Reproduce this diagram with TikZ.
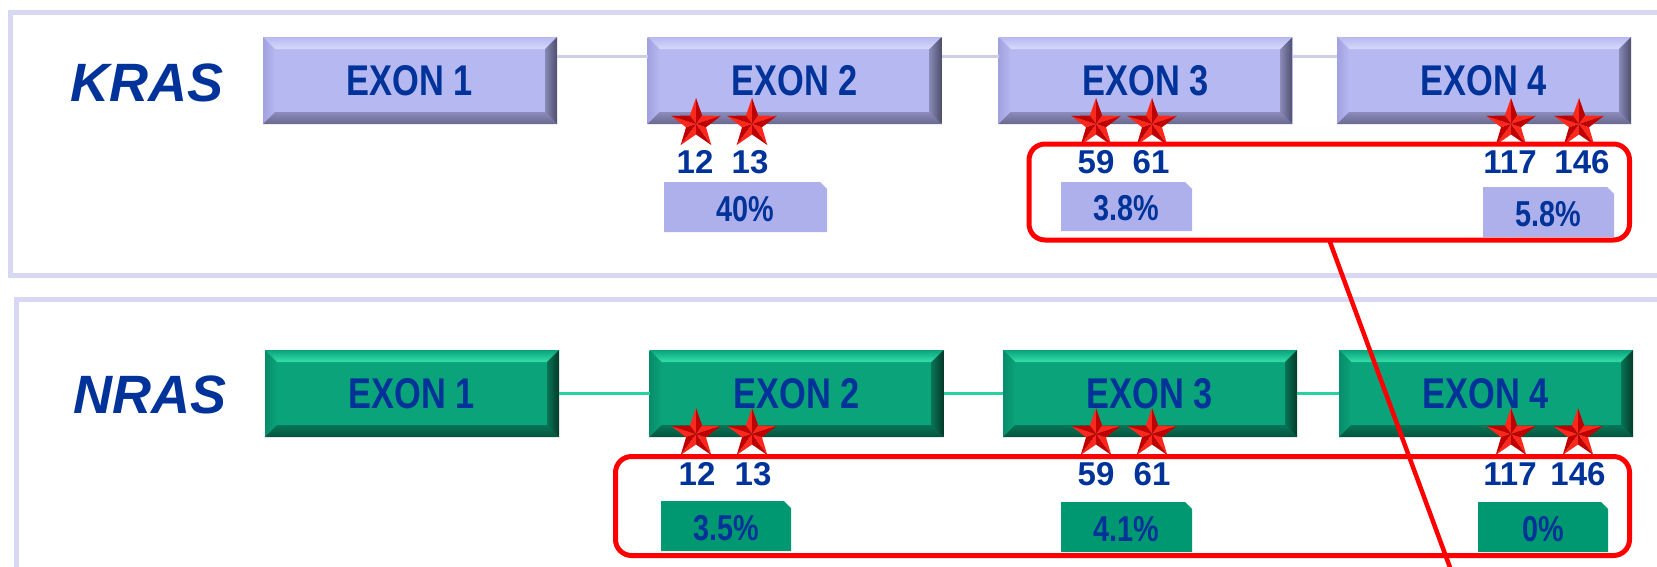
\documentclass[tikz,border=0pt]{standalone}
\usepackage{fontspec}
\setmainfont{Liberation Sans}
\newfontfamily\narrowfont{Liberation Sans}[FakeStretch=0.8]
\usetikzlibrary{calc}

\definecolor{txtblue}{RGB}{0,51,153}
\definecolor{panelline}{RGB}{216,216,244}
\definecolor{kface}{RGB}{182,184,242}
\definecolor{ktop}{RGB}{216,217,251}
\definecolor{kleft}{RGB}{160,161,222}
\definecolor{kbottom}{RGB}{104,104,142}
\definecolor{kright}{RGB}{78,78,108}
\definecolor{ktag}{RGB}{174,176,236}
\definecolor{kconn}{RGB}{205,205,230}
\definecolor{nface}{RGB}{10,163,122}
\definecolor{ntop}{RGB}{52,224,172}
\definecolor{nleft}{RGB}{8,140,105}
\definecolor{nbottom}{RGB}{5,82,60}
\definecolor{nright}{RGB}{4,58,42}
\definecolor{ntag}{RGB}{0,152,112}
\definecolor{nconn}{RGB}{40,210,160}
\definecolor{boxred}{RGB}{255,0,0}
\definecolor{starlight}{RGB}{255,40,28}
\definecolor{stardark}{RGB}{190,0,0}

\tikzset{
  exon/.style n args={5}{draw=none, minimum width=294pt, minimum height=87pt,
    inner sep=0pt, outer sep=0pt, fill=#1, text=txtblue,
    font=\narrowfont\bfseries\fontsize{43}{43}\selectfont,
    path picture={
      \coordinate (bNW) at (path picture bounding box.north west);
      \coordinate (bNE) at (path picture bounding box.north east);
      \coordinate (bSW) at (path picture bounding box.south west);
      \coordinate (bSE) at (path picture bounding box.south east);
      \coordinate (iNW) at ([shift={(12pt,-12pt)}]bNW);
      \coordinate (iNE) at ([shift={(-12pt,-12pt)}]bNE);
      \coordinate (iSW) at ([shift={(12pt,12pt)}]bSW);
      \coordinate (iSE) at ([shift={(-12pt,12pt)}]bSE);
      \shade[top color=#1, bottom color=#2] (bNW) -- (bNE) -- (iNE) -- (iNW) -- cycle;
      \shade[left color=#3, right color=#1] (bNW) -- (iNW) -- (iSW) -- (bSW) -- cycle;
      \shade[top color=#4!55!#1, bottom color=#4] (bSW) -- (iSW) -- (iSE) -- (bSE) -- cycle;
      \shade[left color=#5!45!#1, right color=#5] (bSE) -- (iSE) -- (iNE) -- (bNE) -- cycle;
    }},
  kexon/.style={exon={kface}{ktop}{kleft}{kbottom}{kright}},
  nexon/.style={exon={nface}{ntop}{nleft}{nbottom}{nright}},
  gene/.style={text=txtblue, font=\bfseries\itshape\fontsize{54}{54}\selectfont,
    anchor=base, inner sep=0pt},
  num/.style={text=txtblue, font=\bfseries\fontsize{33}{33}\selectfont,
    anchor=base, inner sep=0pt},
  pct/.style={text=txtblue, font=\narrowfont\bfseries\fontsize{36}{36}\selectfont,
    inner sep=0pt},
  panel/.style={draw=panelline, line width=5pt},
  kconnect/.style={draw=kconn, line width=3pt},
  nconnect/.style={draw=nconn, line width=3pt},
  hotspot/.style={draw=boxred, line width=5pt, rounded corners=16pt,
    inner sep=0pt, outer sep=0pt},
  redline/.style={draw=boxred, line width=4.5pt},
  redstar/.pic={
    \foreach \i in {0,...,4}{
      \pgfmathsetmacro\a{90+72*\i}
      \fill[starlight] (0,0) -- (\a:26pt) -- ({\a+36}:10.5pt) -- cycle;
      \fill[stardark] (0,0) -- (\a:26pt) -- ({\a-36}:10.5pt) -- cycle;
    }
  }
}

% percentage tag with a clipped upper right corner: name, x1, y1, x2, y2, fill, text
\newcommand\pcttag[7]{%
  \fill[#6] (#2,#3) -- ({#4-7},#3) -- (#4,{#3+7}) -- (#4,#5) -- (#2,#5) -- cycle;
  \node[pct] (#1) at ({(#2+#4)/2},{(#3+#5)/2+2}) {#7};
}

\begin{document}
\begin{tikzpicture}[x=1pt,y=-1pt]
\useasboundingbox (0,0) rectangle (1657,566);
\clip (0,0) rectangle (1657,566);

% panel frames
\draw[panel] (1700,12.5) -- (10,12.5) -- (10,275.5) -- (1700,275.5);
\draw[panel] (1700,299.5) -- (16,299.5) -- (16,620);

% gene names
\node[gene] (kras) at (147,101) {KRAS};
\node[gene] (nras) at (150,413) {NRAS};

% KRAS exons
\node[kexon] (k1) at (410,80.5) {EXON 1};
\node[kexon] (k2) at (794.5,80.5) {EXON 2};
\node[kexon] (k3) at (1145.5,80.5) {EXON 3};
\node[kexon] (k4) at (1484,80.5) {EXON 4};

% NRAS exons
\node[nexon] (n1) at (412,393.5) {EXON 1};
\node[nexon] (n2) at (796.5,393.5) {EXON 2};
\node[nexon] (n3) at (1150,393.5) {EXON 3};
\node[nexon] (n4) at (1486,393.5) {EXON 4};

% introns
\draw[kconnect] ([yshift=24pt]k1.east) -- ([yshift=24pt]k2.west);
\draw[kconnect] ([yshift=24pt]k2.east) -- ([yshift=24pt]k3.west);
\draw[kconnect] ([yshift=24pt]k3.east) -- ([yshift=24pt]k4.west);
\draw[nconnect] (n1.east) -- (n2.west);
\draw[nconnect] (n2.east) -- (n3.west);
\draw[nconnect] (n3.east) -- (n4.west);

% mutation hotspots
\pic (sk12) at (696,124) {redstar};
\pic (sk13) at (752,124) {redstar};
\pic (sk59) at (1096,124) {redstar};
\pic (sk61) at (1152,124) {redstar};
\pic (sk117) at (1511,124) {redstar};
\pic (sk146) at (1579,124) {redstar};
\pic (sn12) at (696,434) {redstar};
\pic (sn13) at (752,434) {redstar};
\pic (sn59) at (1096,434) {redstar};
\pic (sn61) at (1152,434) {redstar};
\pic (sn117) at (1511,434) {redstar};
\pic (sn146) at (1578,434) {redstar};

% codon numbers
\node[num] (k12) at (695,173) {12};
\node[num] (k13) at (750,173) {13};
\node[num] (k59) at (1096,173) {59};
\node[num] (k61) at (1151,173) {61};
\node[num] (k117) at (1510,173) {117};
\node[num] (k146) at (1582,173) {146};
\node[num] (n12) at (697,485) {12};
\node[num] (n13) at (753,485) {13};
\node[num] (n59) at (1096,485) {59};
\node[num] (n61) at (1152,485) {61};
\node[num] (n117) at (1510,485) {117};
\node[num] (n146) at (1578,485) {146};

% mutation frequencies
\pcttag{t40}{664}{182}{827}{232}{ktag}{40\%}
\pcttag{t38}{1061}{182}{1192}{231}{ktag}{3.8\%}
\pcttag{t58}{1483}{187}{1614}{237}{ktag}{5.8\%}
\pcttag{t35}{661}{501}{791}{551}{ntag}{3.5\%}
\pcttag{t41}{1061}{502}{1192}{552}{ntag}{4.1\%}
\pcttag{t0}{1478}{502}{1608}{552}{ntag}{0\%}

% highlighted regions and the line between them
\node[hotspot, minimum width=600.5pt, minimum height=96pt] (kbox) at (1329.25,192) {};
\node[hotspot, minimum width=1014pt, minimum height=99pt] (nbox) at (1122.5,506) {};
\coordinate (lineend) at (1462,600);
\draw[redline] (kbox.south) -- (lineend);
\end{tikzpicture}
\end{document}
